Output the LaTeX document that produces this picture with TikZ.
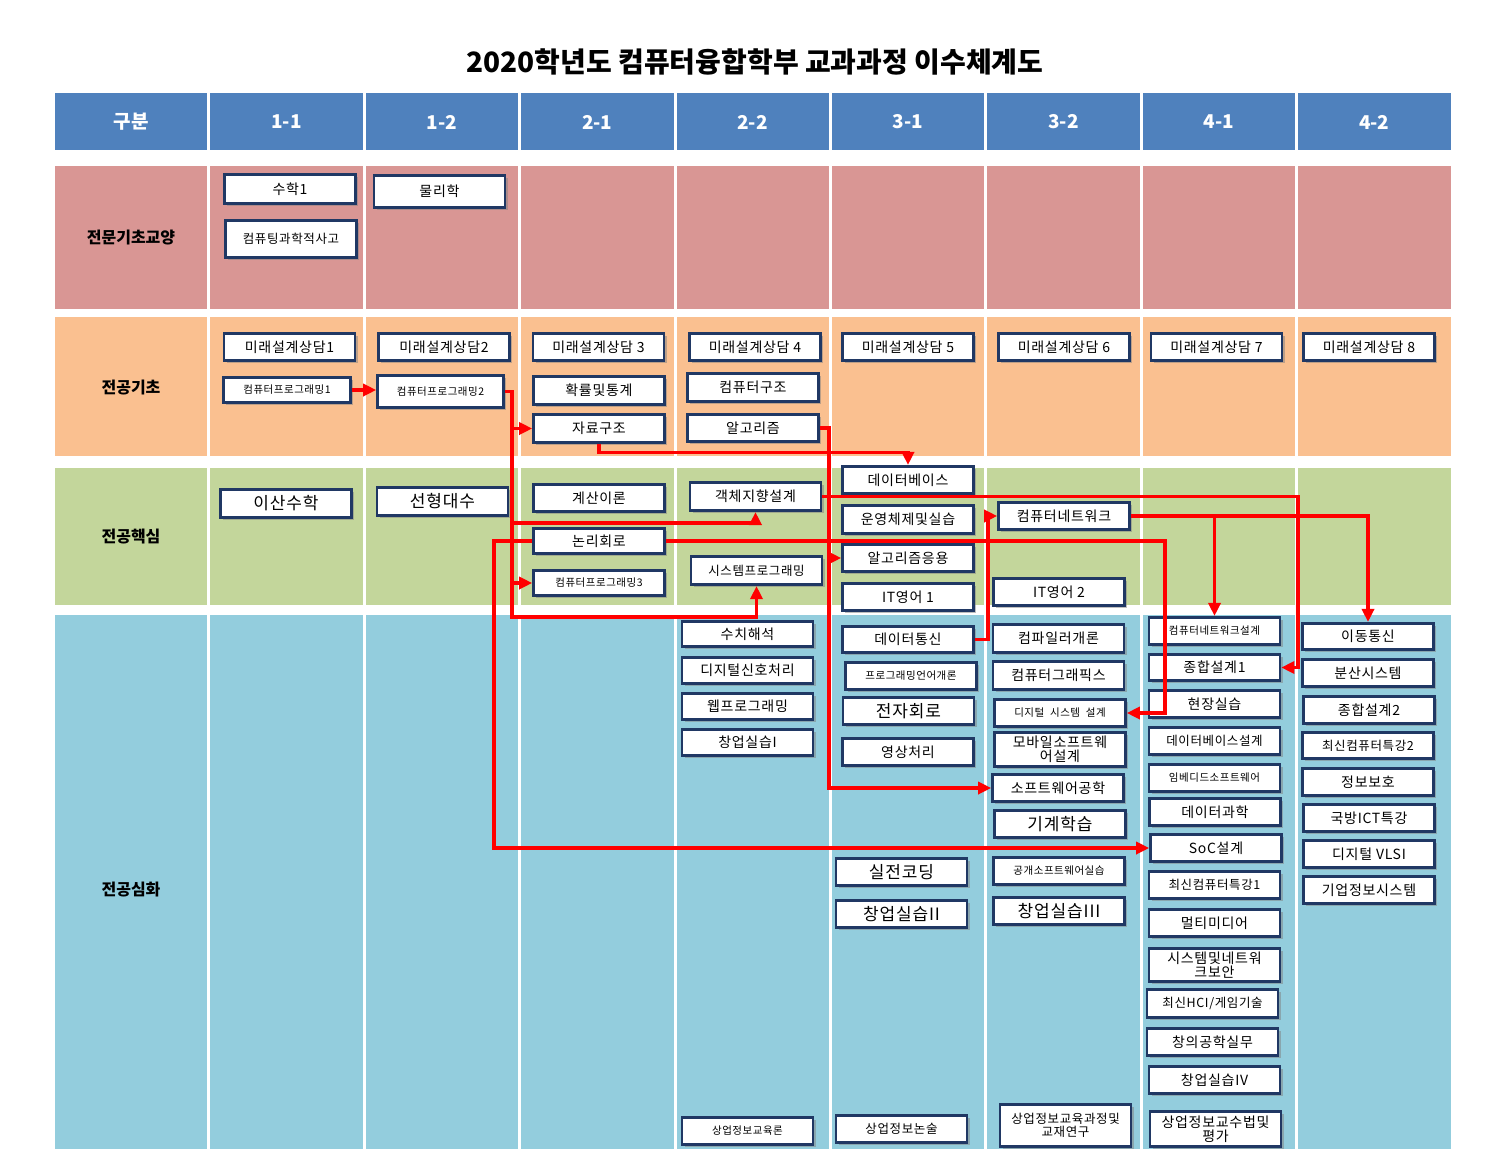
\documentclass[tikz,border=0pt]{standalone}
\usepackage{fontspec}
\setmainfont{Noto Sans CJK KR}[LetterSpace=5]
\newfontfamily\headfont{Noto Sans CJK KR}
\usetikzlibrary{arrows.meta,shadows}
\definecolor{headblue}{HTML}{4F81BD}
\definecolor{rowpink}{HTML}{D99694}
\definecolor{roworange}{HTML}{FAC090}
\definecolor{rowgreen}{HTML}{C3D69B}
\definecolor{rowblue}{HTML}{93CDDD}
\definecolor{boxline}{HTML}{203864}
\tikzset{
    %Define standard arrow tip
    >={Triangle[length=13pt,width=12pt]},
    % Define arrow style
    req/.style={
           ->,
           red,
           line width=3.5pt},
    % course boxes
    course/.style={
           draw=boxline, line width=2.6pt, fill=white,
           minimum width=131pt, minimum height=27.5pt,
           inner sep=1pt, align=center,
           drop shadow={shadow xshift=2.5pt,shadow yshift=-2.5pt,opacity=0.5},
           font=\fontsize{14}{14.5}\selectfont},
    smalltxt/.style={font=\fontsize{10.5}{12}\selectfont},
    midtxt/.style={font=\fontsize{12.5}{13.5}\selectfont},
    bigtxt/.style={font=\fontsize{17}{18}\selectfont},
    headtxt/.style={text=white, font=\headfont\fontsize{19}{20}\selectfont\bfseries},
    rowlab/.style={font=\headfont\fontsize{16}{18}\selectfont\bfseries}
}
\begin{document}
\begin{tikzpicture}[x=1pt,y=-1pt]
\useasboundingbox (0,0) rectangle (1511,1148);
\fill[white] (0,0) rectangle (1511,1148);

\node[font=\headfont\fontsize{28}{30}\selectfont\bfseries] (title) at (755,62) {2020학년도 컴퓨터융합학부 교과과정 이수체계도};

% table background
\foreach \c in {0,...,8}{
\fill[headblue] (55+155.4*\c,93) rectangle ++(152.4,57);
\fill[rowpink] (55+155.4*\c,166) rectangle ++(152.4,143);
\fill[roworange] (55+155.4*\c,317) rectangle ++(152.4,139);
\fill[rowgreen] (55+155.4*\c,468) rectangle ++(152.4,137);
\fill[rowblue] (55+155.4*\c,615) rectangle ++(152.4,540);
}
\node[headtxt] (h0) at (131,122) {구분};
\foreach \s [count=\i] in {1-1,1-2,2-1,2-2,3-1,3-2,4-1,4-2}
\node[headtxt] (h\i) at (131+155.4*\i,122) {\s};

\node[rowlab] (lgen) at (131,238) {전문기초교양};
\node[rowlab] (lbase) at (131,388) {전공기초};
\node[rowlab] (lcore) at (131,537) {전공핵심};
\node[rowlab] (ladv) at (131,890) {전공심화};

% 전문기초교양
\node[course,minimum height=28.5pt] (math1) at (290,189) {수학1};
\node[course,midtxt,minimum height=37pt] (cthink) at (291,239) {컴퓨팅과학적사고};
\node[course,minimum height=32pt] (phys) at (439.5,191.5) {물리학};

% 전공기초
\node[course] (fd1) at (289.5,347) {미래설계상담1};
\node[course] (fd2) at (444,347) {미래설계상담2};
\node[course] (fd3) at (598.5,347) {미래설계상담 3};
\node[course] (fd4) at (755,347) {미래설계상담 4};
\node[course] (fd5) at (908,347) {미래설계상담 5};
\node[course] (fd6) at (1064,347) {미래설계상담 6};
\node[course] (fd7) at (1216.5,347) {미래설계상담 7};
\node[course] (fd8) at (1369,347) {미래설계상담 8};
\node[course,smalltxt,minimum width=127pt,minimum height=25.5pt] (cp1) at (287,390) {컴퓨터프로그래밍1};
\node[course,smalltxt,minimum width=126pt,minimum height=32pt] (cp2) at (440.5,391.5) {컴퓨터프로그래밍2};
\node[course] (prob) at (599,390.5) {확률및통계};
\node[course] (ds) at (599,428.5) {자료구조};
\node[course,minimum height=28.5pt] (arch) at (753,387.5) {컴퓨터구조};
\node[course] (algo) at (753,428) {알고리즘};

% 전공핵심
\node[course,bigtxt,minimum height=28.5pt] (disc) at (286,503.5) {이산수학};
\node[course,bigtxt,minimum height=28.5pt] (linalg) at (442.5,501.5) {선형대수};
\node[course] (toc) at (599,498) {계산이론};
\node[course,minimum height=25.5pt] (logic) at (599,541) {논리회로};
\node[course,smalltxt,minimum height=25.5pt] (cp3) at (599,583) {컴퓨터프로그래밍3};
\node[course,minimum height=28.5pt] (ood) at (755.5,496.5) {객체지향설계};
\node[course,midtxt,minimum height=28.5pt] (sysprog) at (756.5,570.5) {시스템프로그래밍};
\node[course] (db) at (908,480) {데이터베이스};
\node[course,minimum height=28.5pt] (os) at (908,519.5) {운영체제및실습};
\node[course] (algoapp) at (908,558) {알고리즘응용};
\node[course] (ite1) at (908,597) {IT영어 1};
\node[course] (net) at (1064,516) {컴퓨터네트워크};
\node[course] (ite2) at (1059,592) {IT영어 2};

% 전공심화
\node[course,minimum height=25.5pt] (numer) at (747.5,634) {수치해석};
\node[course,minimum height=26.5pt] (dsp) at (747.5,670.5) {디지털신호처리};
\node[course,minimum height=26.5pt] (web) at (747.5,706.5) {웹프로그래밍};
\node[course,minimum height=26.5pt] (start1) at (747.5,742.5) {창업실습I};
\node[course,smalltxt] (edu) at (747.5,1131) {상업정보교육론};
\node[course,minimum height=26.5pt] (datacom) at (908,639.5) {데이터통신};
\node[course,smalltxt] (plang) at (911,676) {프로그래밍언어개론};
\node[course,bigtxt] (elec) at (908.5,711) {전자회로};
\node[course] (image) at (908,752) {영상처리};
\node[course,bigtxt] (coding) at (901.5,872) {실전코딩};
\node[course,bigtxt] (start2) at (901.5,914) {창업실습II};
\node[course,midtxt] (essay) at (901.5,1129) {상업정보논술};
\node[course,minimum height=28.5pt] (compiler) at (1058.5,638.5) {컴파일러개론};
\node[course,minimum height=28.5pt] (graphics) at (1058.5,675.5) {컴퓨터그래픽스};
\node[course,smalltxt] (dsd) at (1060,713) {디지털\ \ 시스템\ \ 설계};
\node[course,minimum height=34pt] (mobsw) at (1060,749.5) {모바일소프트웨\\어설계};
\node[course] (swe) at (1058,788) {소프트웨어공학};
\node[course,bigtxt] (ml) at (1060,824) {기계학습};
\node[course,smalltxt] (oss) at (1059,871) {공개소프트웨어실습};
\node[course,bigtxt] (start3) at (1059,911) {창업실습III};
\node[course,midtxt,minimum height=42pt] (curri) at (1065.5,1125.5) {상업정보교육과정및\\교재연구};
\node[course,smalltxt] (netdes) at (1214.5,631) {컴퓨터네트워크설계};
\node[course,minimum height=26.5pt] (cap1) at (1214.5,667.5) {종합설계1};
\node[course] (intern) at (1214.5,704) {현장실습};
\node[course,midtxt] (dbdes) at (1214.5,741) {데이터베이스설계};
\node[course,smalltxt] (embed) at (1214.5,778) {임베디드소프트웨어};
\node[course] (datasci) at (1215,812) {데이터과학};
\node[course] (soc) at (1216,848) {SoC설계};
\node[course,midtxt] (special1) at (1214.5,885) {최신컴퓨터특강1};
\node[course] (mmedia) at (1214.5,923) {멀티미디어};
\node[course,minimum height=33pt] (netsec) at (1214.5,965) {시스템및네트워\\크보안};
\node[course,midtxt,minimum height=28.5pt] (hci) at (1212.5,1003.5) {최신HCI/게임기술};
\node[course] (creat) at (1212.5,1042) {창의공학실무};
\node[course] (start4) at (1214.5,1080) {창업실습IV};
\node[course,minimum height=35pt] (teach) at (1215.5,1129) {상업정보교수법및\\평가};
\node[course,minimum height=26.5pt] (mobile) at (1368,636.5) {이동통신};
\node[course] (distsys) at (1368,673) {분산시스템};
\node[course] (cap2) at (1369,710) {종합설계2};
\node[course,midtxt,minimum height=26.5pt] (special2) at (1368,745.5) {최신컴퓨터특강2};
\node[course] (infosec) at (1368,782) {정보보호};
\node[course] (defense) at (1369,818) {국방ICT특강};
\node[course] (vlsi) at (1369,854) {디지털 VLSI};
\node[course] (erp) at (1369,890) {기업정보시스템};

% prerequisite lines
\coordinate (cpbus) at (512,617);
\coordinate (oodbus) at (512,523);
\coordinate (algobus) at (829,0);
\coordinate (oodturn) at (1298,0);
\coordinate (logicturn) at (1165,0);
\coordinate (socbus) at (494,0);
\coordinate (netturn) at (988,0);

\draw[req] (cp1.east) -- (cp1.east -| cp2.west);
\draw[req] (cp2.east) -| (cpbus) -| (sysprog.south);
\draw[req] (cpbus |- cp2.east) |- (ds.west);
\draw[req] (cpbus |- cp2.east) |- (cp3.west);
\draw[req] (cpbus |- cp2.east) -- (oodbus) -| (ood.south);
\draw[req] (ds.south) -- ++(0,9) -| (db.north);
\draw[req] (algo.east) -| (algobus |- swe.west) -- (swe.west);
\draw[req] (algobus |- algo.east) |- (algoapp.west);
\draw[req] (ood.east) -| (oodturn |- cap1.east) -- (cap1.east);
\draw[req] (logic.east) -| (logicturn |- dsd.east) -- (dsd.east);
\draw[req] (logic.west) -| (socbus |- soc.west) -- (soc.west);
\draw[req] (datacom.east) -| (netturn |- net.west) -- (net.west);
\draw[req] (net.east) -| (mobile.north);
\draw[req] (net.east) -| (netdes.north);

\end{tikzpicture}
\end{document}
